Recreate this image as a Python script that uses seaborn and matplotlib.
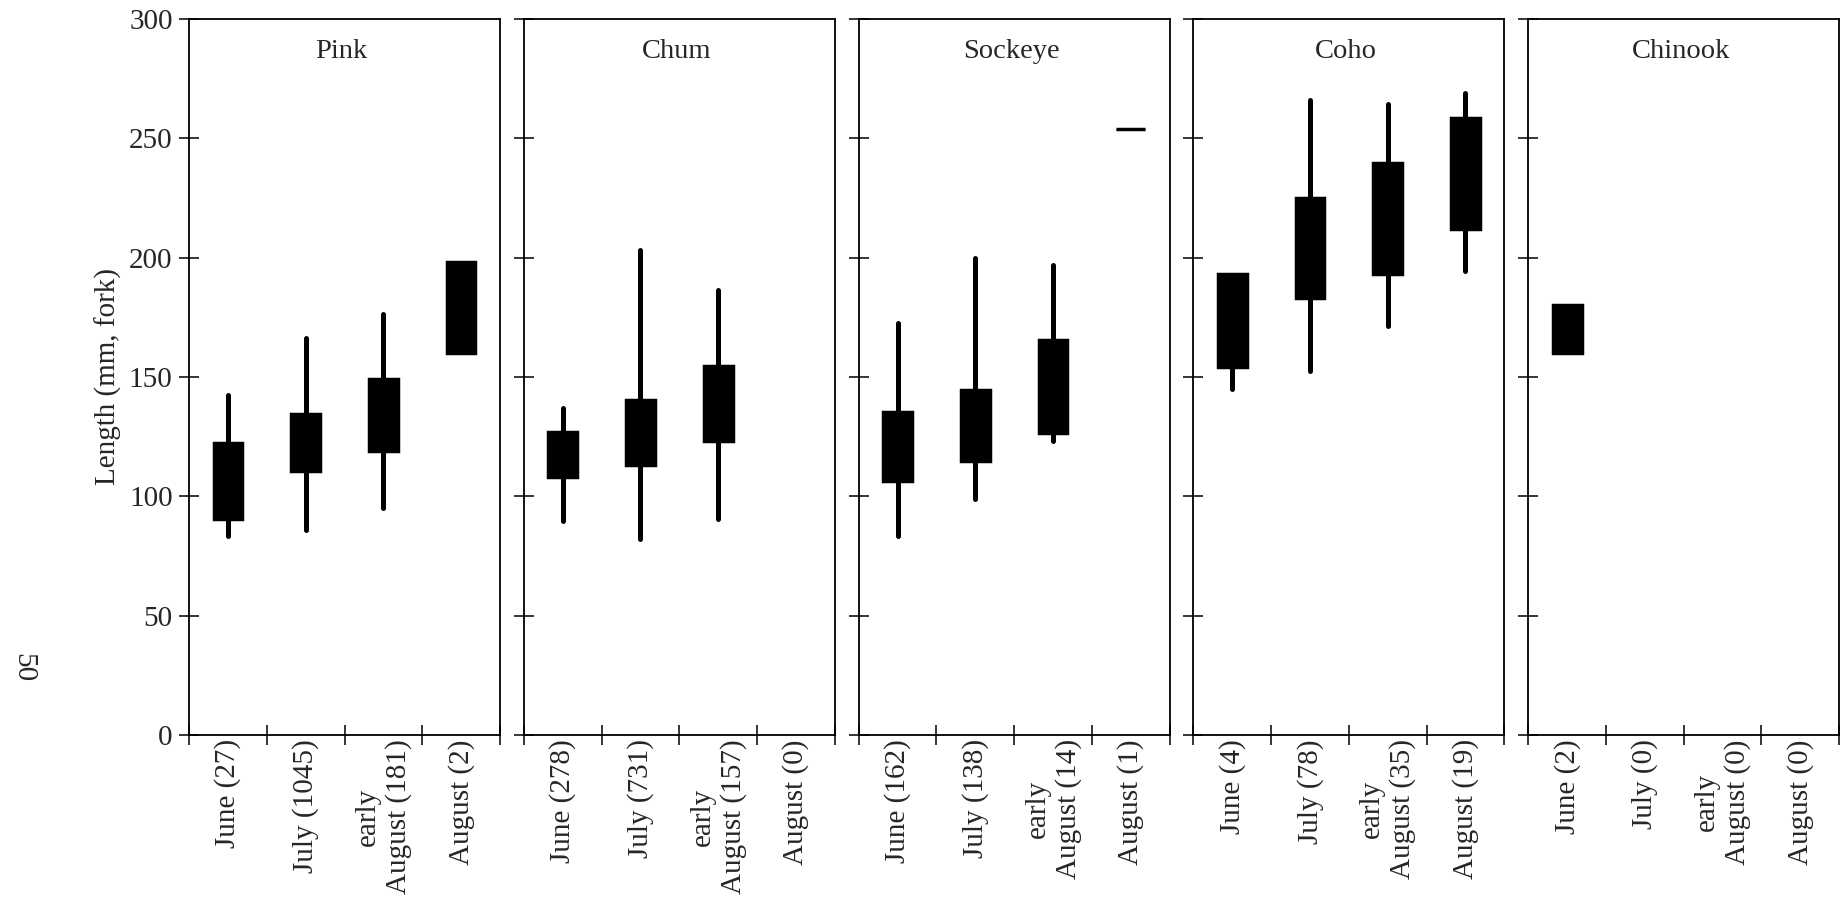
import pandas as pd
import matplotlib.pyplot as plt
import seaborn as sns
from matplotlib.ticker import FixedLocator

sns.set_style("ticks")
plt.rcParams['font.family'] = ['Liberation Serif', 'DejaVu Serif']

# data (mm, fork length)
months = ["June", "July", "early\nAugust", "August"]
species = ["Pink", "Chum", "Sockeye", "Coho", "Chinook"]

counts = {
    "Pink": [27, 1045, 181, 2],
    "Chum": [278, 731, 157, 0],
    "Sockeye": [162, 138, 14, 1],
    "Coho": [4, 78, 35, 19],
    "Chinook": [2, 0, 0, 0],
}
# whisker low, box bottom, box top, whisker high
low = {
    "Pink": [83.5, 86, 95, 160],
    "Chum": [89.5, 82, 90.5, None],
    "Sockeye": [83.5, 99, 123, 254],
    "Coho": [145, 152.5, 171.5, 194.5],
    "Chinook": [160, None, None, None],
}
q1 = {
    "Pink": [90.5, 110.5, 119, 160],
    "Chum": [108, 113, 123, None],
    "Sockeye": [106.5, 115, 126.5, 254],
    "Coho": [154, 183, 193, 212],
    "Chinook": [160, None, None, None],
}
q3 = {
    "Pink": [122.5, 134.5, 149, 198],
    "Chum": [127, 140.5, 154.5, None],
    "Sockeye": [135.5, 144.5, 165.5, 254],
    "Coho": [193, 225, 239.5, 258.5],
    "Chinook": [180, None, None, None],
}
high = {
    "Pink": [142.5, 166.5, 176.5, 198],
    "Chum": [137, 203, 186.5, None],
    "Sockeye": [172.5, 200, 197, 254],
    "Coho": [193, 266, 264.5, 269],
    "Chinook": [180, None, None, None],
}

rows = []
for sp in species:
    for i, m in enumerate(months):
        if counts[sp][i] == 0:
            continue
        vals = [low[sp][i], q1[sp][i], (q1[sp][i] + q3[sp][i]) / 2, q3[sp][i], high[sp][i]]
        for v in vals:
            rows.append({"species": sp, "month": m, "length": v})
df = pd.DataFrame(rows)

fig, axes = plt.subplots(1, 5, figsize=(18.41, 8.99), dpi=100, sharey=True)
fig.subplots_adjust(left=0.1027, right=0.999, top=0.9789, bottom=0.1824, wspace=0.077)

for ax, sp in zip(axes, species):
    sns.boxplot(data=df[df.species == sp], x="month", y="length", order=months, ax=ax,
                whis=(0, 100), width=0.37, color="black", linecolor="black",
                showcaps=False, showfliers=False, saturation=1,
                boxprops={"linewidth": 2.5},
                whiskerprops={"linewidth": 3.6, "solid_capstyle": "round"},
                medianprops={"linewidth": 1})
    ax.set_xlim(-0.5, 3.5)
    ax.set_ylim(0, 300)
    ax.set_yticks(range(0, 301, 50))
    ax.set_xticks(range(4))
    ax.set_xticklabels([f"{m} ({n})" for m, n in zip(months, counts[sp])], rotation=90,
                       fontsize=21, va="top", ha="center")
    ax.xaxis.set_minor_locator(FixedLocator([-0.5, 0.5, 1.5, 2.5, 3.5]))
    ax.tick_params(axis="x", which="major", length=0, pad=3)
    ax.tick_params(axis="x", which="minor", direction="inout", length=13.7, width=1.3)
    ax.tick_params(axis="y", direction="inout", length=13.7, width=1.3, pad=5, labelsize=21)
    ax.set_xlabel("")
    ax.set_ylabel("")
    for s in ax.spines.values():
        s.set_visible(True)
        s.set_linewidth(1.3)
        s.set_color("black")
    ax.text(0.49, 0.954, sp, transform=ax.transAxes, ha="center", va="center", fontsize=20.5)

axes[0].set_ylabel("Length (mm, fork)", fontsize=21)
axes[0].yaxis.set_label_coords(-0.217, 0.5)

fig.text(0.0125, 0.257, "50", rotation=-90, ha="center", va="center", fontsize=21)

plt.savefig("out.png", dpi=100)
